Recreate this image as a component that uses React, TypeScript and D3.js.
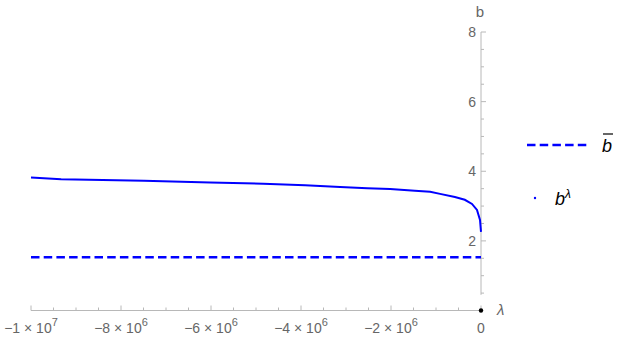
import React from 'react';
import * as d3 from 'd3';

// b^lambda curve
const lambdaVals = [-1e7, -9.33e6, -7.49e6, -6.02e6, -4.84e6, -3.91e6, -3.13e6, -2.53e6, -2.02e6, -1.47e6, -1.13e6, -9.1e5, -5.8e5, -3.6e5, -2.0e5, -8.9e4, -2.2e4, 0];
const bVals = [3.82, 3.77, 3.73, 3.68, 3.64, 3.6, 3.55, 3.51, 3.49, 3.44, 3.41, 3.35, 3.26, 3.18, 3.06, 2.89, 2.6, 2.26];
const bBar = 1.53;
const xTicks = [-1e7, -8e6, -6e6, -4e6, -2e6, 0];
const xTickMant = ['\u22121', '\u22128', '\u22126', '\u22124', '\u22122', '0'];
const xTickExp = ['7', '6', '6', '6', '6', ''];
const yTicks = [2, 4, 6, 8];

const App: React.FC = () => {
  const width = 623;
  const height = 338;
  const x = d3.scaleLinear().domain([-1e7, 0]).range([31, 481]);
  const y = d3.scaleLinear().domain([0, 8]).range([310.5, 32]);
  const axisCol = '#b8b8b8';
  const textCol = '#666';
  const blue = '#0000ff';
  const font = '"Liberation Sans", Arial, sans-serif';

  const xMinor = d3.range(-1e7, 1, 5e5);
  const yMinor = d3.range(0.5, 8.01, 0.5);

  const line = d3.line<number>().x((_, i) => x(lambdaVals[i])).y(d => y(d));

  return (
    <svg width={width} height={height} style={{ position: 'absolute', left: 0, top: 0, background: '#fff' }}>
      {/* x axis */}
      <line x1={x(-1e7)} x2={x(0) + 2} y1={y(0)} y2={y(0)} stroke={axisCol} strokeWidth={1} />
      {xMinor.map(v => {
        const major = xTicks.includes(v);
        return <line key={v} x1={x(v)} x2={x(v)} y1={y(0)} y2={y(0) - (major ? 5 : 3)} stroke={axisCol} strokeWidth={1} />;
      })}
      {xTicks.map((v, i) => (
        <text key={v} x={x(v)} y={333} textAnchor="middle" fontFamily={font} fontSize={14} fill={textCol}>
          {xTickExp[i] ? (
            <>
              {xTickMant[i] + ' \u00d7 10'}
              <tspan dy={-7} fontSize={11}>{xTickExp[i]}</tspan>
            </>
          ) : xTickMant[i]}
        </text>
      ))}
      <text x={497} y={315} fontFamily={font} fontSize={15} fontStyle="italic" fill={textCol}>λ</text>

      {/* y axis */}
      <line x1={x(0)} x2={x(0)} y1={y(8)} y2={y(0.45)} stroke={axisCol} strokeWidth={1} />
      {yMinor.map(v => {
        const major = yTicks.includes(v);
        return <line key={v} x1={x(0)} x2={x(0) + (major ? 5 : 3)} y1={y(v)} y2={y(v)} stroke={axisCol} strokeWidth={1} />;
      })}
      {yTicks.map(v => (
        <text key={v} x={476} y={y(v) + 5} textAnchor="end" fontFamily={font} fontSize={14} fill={textCol}>{v}</text>
      ))}
      <text x={480} y={17} textAnchor="middle" fontFamily={font} fontSize={15} fill={textCol}>b</text>

      {/* data */}
      <line x1={x(-1e7)} x2={x(0)} y1={y(bBar)} y2={y(bBar)} stroke={blue} strokeWidth={2.5} strokeDasharray="8.5,4.2" />
      <path d={line(bVals) || ''} fill="none" stroke={blue} strokeWidth={2} />
      <circle cx={x(0)} cy={y(0)} r={2.2} fill="#000" />

      {/* legend */}
      <line x1={527} x2={589} y1={145} y2={145} stroke={blue} strokeWidth={2.5} strokeDasharray="8.5,4.2" />
      <text x={602} y={152} fontFamily={font} fontSize={18} fontStyle="italic" fill="#000">b</text>
      <line x1={603} x2={613} y1={134} y2={134} stroke="#000" strokeWidth={1.2} />
      <circle cx={535} cy={198} r={1.2} fill={blue} />
      <text x={555} y={205} fontFamily={font} fontSize={18} fontStyle="italic" fill="#000">
        b<tspan dy={-7} fontSize={12}>λ</tspan>
      </text>
    </svg>
  );
};

export default App;
